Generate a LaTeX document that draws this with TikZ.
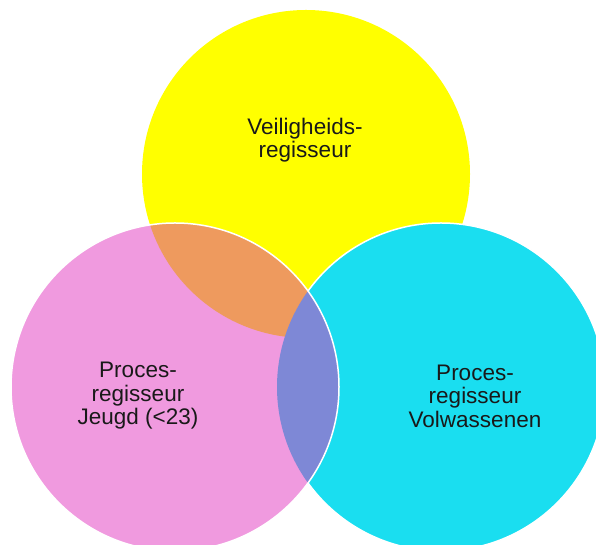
\documentclass[tikz,border=0pt]{standalone}
\usepackage{fontspec}
\setmainfont{Liberation Sans}
\usepackage{tikz}
\usetikzlibrary{positioning}

\definecolor{vyellow}{HTML}{FFFF00}
\definecolor{vpink}{HTML}{F09ADF}
\definecolor{vcyan}{HTML}{1ADEF0}
\definecolor{vorange}{HTML}{EE9A5E}
\definecolor{vpurple}{HTML}{7E88D6}

\begin{document}
\begin{tikzpicture}[x=1pt,y=1pt]
		\tikzstyle{set}=[circle, draw=white, line width=1.5pt, minimum size=328pt, inner sep=0pt]
		\tikzstyle{settext}=[align=center, text=black!90, font=\fontsize{22.5}{23.5}\selectfont]

		\useasboundingbox (0,0) rectangle (596,545);
		\node [set, fill=vyellow, draw=none] (veilig) at (306,371) {};
		\node [set, fill=vcyan] (volw) at (441,158) {};
		\node [set, fill=vpink, draw=none] (jeugd) at (175,158) {};
		% overlaps
		\begin{scope}
			\clip (jeugd.center) circle (164pt);
			\fill [vorange] (veilig.center) circle (164pt);
			\fill [vpurple] (volw.center) circle (164pt);
		\end{scope}
		\draw [white, line width=1.5pt] (jeugd.center) circle (164pt);

		\node [settext] (veilig text) at (305,405) {Veiligheids-\\regisseur};
		\node [settext] (jeugd text) at (138,149) {Proces-\\regisseur\\Jeugd (<23)};
		\node [settext] (volw text) at (475,149) {Proces-\\regisseur\\Volwassenen};
	\end{tikzpicture}
\end{document}
